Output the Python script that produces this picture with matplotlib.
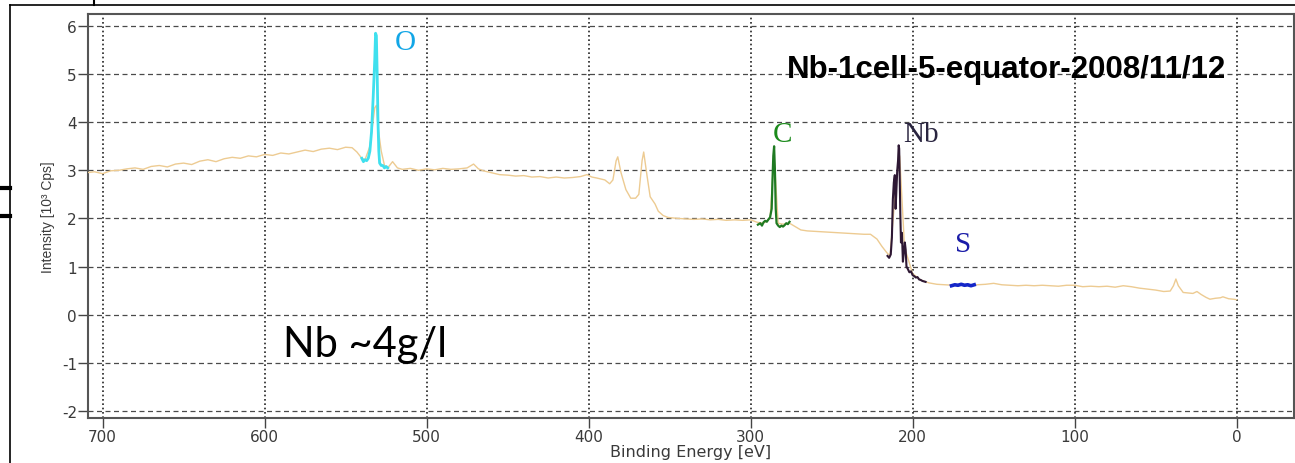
"""XPS survey spectrum of the Nb-1cell-5 equator sample, redrawn from a slide."""
import matplotlib
matplotlib.use("Agg")
import matplotlib.pyplot as plt
import matplotlib.ticker as mticker

plt.rcParams["axes.unicode_minus"] = False

# ── Spectrum data (binding energy in eV, intensity in 10^3 cps) ──────────────
survey_be = [
    710, 705, 700, 695, 690, 685, 680, 675, 670, 665, 660, 655, 650, 645, 640,
    635, 630, 625, 620, 615, 610, 605, 600, 595, 590, 585, 580, 575, 570, 565,
    560, 555, 550, 546, 543, 540, 538, 535, 532, 531, 530, 528, 526, 524, 521,
    518, 515, 510, 505, 500, 495, 490, 485, 480, 475, 471, 468, 465, 460, 455,
    450, 445, 440, 435, 430, 425, 420, 415, 410, 405, 401, 398, 395, 390, 387,
    385, 383, 382, 380, 377, 374, 371, 369, 367, 366, 364, 362, 359, 357, 354,
    351, 345, 340, 335, 330, 325, 320, 315, 310, 305, 300, 296, 292, 288, 285.5,
    283, 280, 276, 272, 269, 265, 260, 255, 250, 245, 240, 235, 230, 226, 222,
    219, 216, 214, 210, 208, 205, 200, 195, 190, 185, 180, 175, 170, 165, 160,
    155, 150, 145, 140, 135, 130, 125, 120, 115, 110, 105, 100, 95, 90, 85, 80,
    75, 70, 65, 60, 55, 50, 45, 41, 39, 37.5, 36, 33, 30, 27, 24.5, 22, 19,
    16.5, 13, 10, 8.5, 5, 2, 0,
]
survey_int = [
    2.95, 2.97, 2.93, 2.99, 3.00, 3.03, 3.05, 3.02, 3.08, 3.10, 3.07, 3.13, 3.15, 3.12, 3.19,
    3.22, 3.18, 3.24, 3.27, 3.25, 3.30, 3.28, 3.33, 3.31, 3.36, 3.34, 3.38, 3.42, 3.39, 3.44,
    3.46, 3.43, 3.48, 3.47, 3.38, 3.25, 3.22, 3.50, 4.30, 4.35, 3.90, 3.40, 3.10, 3.05, 3.18,
    3.05, 3.02, 3.04, 3.00, 3.03, 3.01, 3.04, 3.02, 3.03, 3.05, 3.13, 3.03, 2.99, 2.95, 2.91,
    2.90, 2.88, 2.89, 2.86, 2.87, 2.84, 2.86, 2.84, 2.85, 2.87, 2.91, 2.86, 2.84, 2.80, 2.72,
    2.80, 3.20, 3.28, 2.95, 2.60, 2.42, 2.42, 2.50, 3.20, 3.38, 2.90, 2.45, 2.30, 2.15, 2.06,
    2.02, 2.00, 1.99, 1.98, 1.99, 1.97, 1.98, 1.96, 1.97, 1.96, 1.97, 1.92, 1.90, 2.00, 3.30,
    1.90, 1.88, 1.90, 1.82, 1.76, 1.74, 1.73, 1.72, 1.71, 1.70, 1.69, 1.68, 1.67, 1.67, 1.57,
    1.42, 1.29, 1.22, 2.80, 3.30, 1.40, 0.85, 0.72, 0.66, 0.63, 0.62, 0.61, 0.61, 0.62, 0.62,
    0.63, 0.65, 0.62, 0.61, 0.60, 0.61, 0.60, 0.61, 0.60, 0.59, 0.61, 0.61, 0.58, 0.59, 0.58, 0.59,
    0.57, 0.60, 0.58, 0.55, 0.53, 0.51, 0.48, 0.49, 0.60, 0.74, 0.60, 0.46, 0.45, 0.44, 0.48, 0.42, 0.36,
    0.32, 0.34, 0.35, 0.37, 0.33, 0.32, 0.31,
]

o_be = [540, 539, 538, 537, 536, 535, 534, 533, 532, 531.5, 531, 530.5, 530,
        529.5, 529, 528, 527, 526, 525, 524]
o_int = [3.25, 3.18, 3.22, 3.20, 3.25, 3.40, 3.80, 4.50, 5.30, 5.85, 5.80, 5.00,
         4.00, 3.40, 3.15, 3.10, 3.10, 3.05, 3.08, 3.05]

c_be = [295.5, 294, 293, 292, 291, 290, 289, 288, 287, 286.5, 286, 285.5, 285,
        284.5, 284, 283, 282, 281, 280, 279, 278, 277, 276]
c_int = [1.87, 1.90, 1.85, 1.92, 1.95, 1.93, 1.98, 2.02, 2.20, 2.80, 3.30, 3.50,
         3.00, 2.20, 1.90, 1.85, 1.82, 1.85, 1.83, 1.86, 1.90, 1.88, 1.93]

nb_be = [215.5, 214.5, 213.5, 212.8, 212.2, 211.6, 211.0, 210.5, 210.0, 209.5,
         209.0, 208.6, 208.3, 208.0, 207.6, 207.2, 206.6, 206.0, 205.4, 204.8,
         204.3, 203.8, 203.0, 202.0, 201.0, 200.0, 199.0, 198.0, 197.0, 196.0,
         195.0, 194.0, 193.0, 192.0]
nb_int = [1.22, 1.18, 1.25, 1.60, 2.40, 2.75, 2.90, 2.20, 2.60, 3.00,
          3.20, 3.52, 3.45, 2.90, 2.10, 1.50, 1.70, 1.10, 1.30, 1.50,
          1.35, 1.00, 0.95, 0.88, 0.90, 0.82, 0.80, 0.77, 0.78, 0.73,
          0.72, 0.70, 0.69, 0.68]

s_be = [176, 174, 172, 170, 168, 166, 164, 162]
s_int = [0.60, 0.62, 0.61, 0.63, 0.61, 0.62, 0.60, 0.62]

x_ticks = [700, 600, 500, 400, 300, 200, 100, 0]
y_ticks = [-2, -1, 0, 1, 2, 3, 4, 5, 6]

# ── Colours ──────────────────────────────────────────────────────────────────
SURVEY_CLR = "#EDCB92"
O_CLR = "#3FE0EE"
O_LBL = "#12A6E6"
C_CLR = "#1F7A22"
C_LBL = "#1B8A1B"
NB_CLR = "#2E1834"
NB_LBL = "#2A2540"
S_CLR = "#1426C8"
S_LBL = "#1A1CA8"
AXIS_CLR = "#555555"
LABEL_CLR = "#3a3a3a"
NARROW = ["Liberation Sans Narrow", "Liberation Sans"]

fig = plt.figure(figsize=(12.95, 4.64), dpi=100, facecolor="white")
ax = fig.add_axes([88 / 1295, 1 - 419 / 464, 1206 / 1295, 404 / 464])

ax.plot(survey_be, survey_int, color=SURVEY_CLR, linewidth=1.0, zorder=3)
ax.plot(o_be, o_int, color=O_CLR, linewidth=2.0, zorder=4)
ax.plot(c_be, c_int, color=C_CLR, linewidth=1.6, zorder=4)
ax.plot(nb_be, nb_int, color=NB_CLR, linewidth=1.5, zorder=4)
ax.plot(s_be, s_int, color=S_CLR, linewidth=2.6, zorder=4)

ax.set_xlim(709, -35.4)
ax.set_ylim(-2.15, 6.25)
ax.xaxis.set_major_locator(mticker.FixedLocator(x_ticks))
ax.yaxis.set_major_locator(mticker.FixedLocator(y_ticks))

ax.grid(axis="y", color="#4a4a4a", linewidth=0.9, linestyle=(0, (4, 2.8)), zorder=1)
ax.grid(axis="x", color="#222222", linewidth=1.2, linestyle=(0, (1, 1.6)), zorder=1)

for spine in ax.spines.values():
    spine.set_edgecolor(AXIS_CLR)
    spine.set_linewidth(1.5)
ax.tick_params(direction="out", length=7, width=1, color="#444444",
               labelcolor=LABEL_CLR, labelsize=11, pad=1)
for lbl in ax.get_xticklabels() + ax.get_yticklabels():
    lbl.set_family("DejaVu Sans")

ax.set_xlabel("Binding Energy [eV]", fontsize=11.5, color=LABEL_CLR,
              family="DejaVu Sans", labelpad=0)
ax.set_ylabel("Intensity [10³ Cps]", fontsize=10, color=LABEL_CLR,
              family=NARROW, labelpad=5)

# ── Peak labels and slide annotations ────────────────────────────────────────
ax.text(519.6, 5.53, "O", color=O_LBL, fontsize=21, family="Liberation Serif",
        va="baseline", zorder=5)
ax.text(286.2, 3.60, "C", color=C_LBL, fontsize=21, family="Liberation Serif",
        va="baseline", zorder=5)
ax.text(206.0, 3.60, "Nb", color=NB_LBL, fontsize=21, family="Liberation Serif",
        va="baseline", zorder=5)
ax.text(173.9, 1.32, "S", color=S_LBL, fontsize=21, family="Liberation Serif",
        va="baseline", zorder=5)
ax.text(141.8, 4.93, "Nb-1cell-5-equator-2008/11/12", color="black",
        fontsize=22.5, fontweight="bold", family=NARROW,
        ha="center", va="baseline", zorder=5)
ax.text(588.7, -0.86, "Nb ~4g/l", color="black", fontsize=30, family="Lato",
        va="baseline", zorder=5)

# slide frame pieces around the pasted screenshot
fig.add_artist(plt.Line2D([10 / 1295, 1], [1 - 6 / 464, 1 - 6 / 464],
                          color="black", linewidth=1.2))
fig.add_artist(plt.Line2D([10 / 1295, 10 / 1295], [0, 1 - 6 / 464],
                          color="black", linewidth=1.2))
fig.add_artist(plt.Line2D([94 / 1295, 94 / 1295], [1, 1 - 6 / 464],
                          color="black", linewidth=1.5))
for yy in (189, 217):
    fig.add_artist(plt.Line2D([0, 10 / 1295], [1 - yy / 464, 1 - yy / 464],
                              color="black", linewidth=3))

plt.savefig("out.png", dpi=100, facecolor="white")
